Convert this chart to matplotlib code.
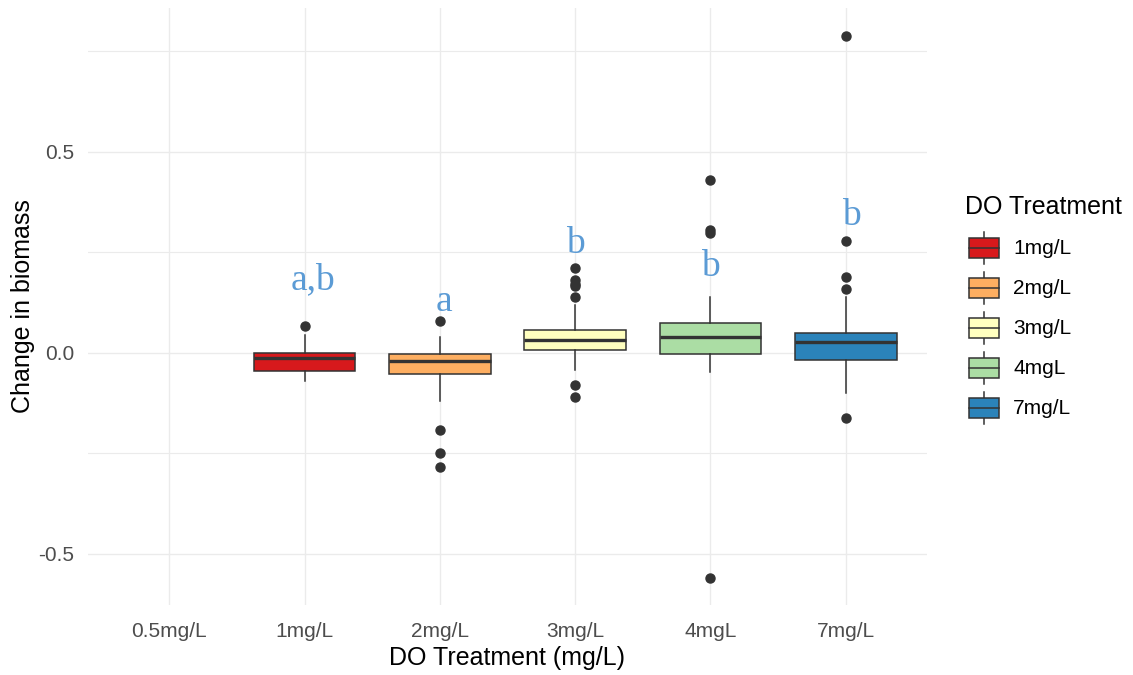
import matplotlib
matplotlib.use("Agg")
import matplotlib.pyplot as plt
from matplotlib.patches import Patch, Rectangle
from matplotlib.lines import Line2D
from matplotlib.legend_handler import HandlerBase

plt.rcParams['font.family'] = ['Liberation Sans', 'DejaVu Sans']

# categories on the x axis (0.5mg/L has no data)
categories = ['0.5mg/L', '1mg/L', '2mg/L', '3mg/L', '4mgL', '7mg/L']
groups = ['1mg/L', '2mg/L', '3mg/L', '4mgL', '7mg/L']
group_pos = [1, 2, 3, 4, 5]

# box statistics
q1 = [-0.045, -0.053, 0.006, -0.002, -0.019]
med = [-0.012, -0.020, 0.031, 0.039, 0.027]
q3 = [-0.001, -0.002, 0.057, 0.075, 0.049]
whis_lo = [-0.070, -0.121, -0.042, -0.049, -0.100]
whis_hi = [0.045, 0.038, 0.118, 0.139, 0.139]
fliers = [[0.066],
          [0.079, -0.192, -0.250, -0.285],
          [0.211, 0.180, 0.172, 0.165, 0.139, -0.081, -0.111],
          [0.430, 0.305, 0.298, -0.560],
          [0.789, 0.278, 0.189, 0.158, -0.162]]

colors = ['#D7191C', '#FDAE61', '#FFFFBF', '#ABDDA4', '#2B83BA']

# significance letters
letters = ['a,b', 'a', 'b', 'b', 'b']
letter_x = [1.06, 2.03, 3.0, 4.0, 5.04]
letter_y = [0.180, 0.128, 0.270, 0.213, 0.340]

edge = '#333333'

stats = []
for i in range(len(groups)):
    stats.append({'q1': q1[i], 'med': med[i], 'q3': q3[i],
                  'whislo': whis_lo[i], 'whishi': whis_hi[i],
                  'fliers': fliers[i], 'label': groups[i]})

fig = plt.figure(figsize=(11.33, 6.75), dpi=100)
ax = fig.add_axes([88/1133, 70/675, 839/1133, 597/675])

bp = ax.bxp(stats, positions=group_pos, widths=0.75, patch_artist=True,
            showcaps=False, zorder=3,
            boxprops=dict(edgecolor=edge, linewidth=1.1),
            medianprops=dict(color=edge, linewidth=2.4, solid_capstyle='butt'),
            whiskerprops=dict(color=edge, linewidth=1.1),
            flierprops=dict(marker='o', markerfacecolor=edge, markeredgecolor=edge,
                            markersize=6.5, linestyle='none'))
for patch, c in zip(bp['boxes'], colors):
    patch.set_facecolor(c)

for t, x, y in zip(letters, letter_x, letter_y):
    ax.text(x, y, t, ha='center', va='center', fontsize=27, color='#5B9BD5',
            family=['Liberation Serif', 'DejaVu Serif'], zorder=4)

ax.set_xlim(-0.6, 5.6)
ax.set_ylim(-0.628, 0.858)
ax.set_xticks(range(len(categories)))
ax.set_xticklabels(categories)
ax.set_yticks([-0.5, 0.0, 0.5])
ax.set_yticklabels(['-0.5', '0.0', '0.5'])
ax.set_yticks([-0.25, 0.25, 0.75], minor=True)

ax.grid(True, which='major', color='#EBEBEB', linewidth=1.0, zorder=0)
ax.grid(True, which='minor', axis='y', color='#EBEBEB', linewidth=0.8, zorder=0)
ax.set_axisbelow(True)
for s in ax.spines.values():
    s.set_visible(False)
ax.tick_params(which='both', length=0, labelsize=15, labelcolor='#4D4D4D')
ax.tick_params(axis='y', pad=10)
ax.tick_params(axis='x', pad=12)

ax.set_xlabel('DO Treatment (mg/L)', fontsize=18)
ax.set_ylabel('Change in biomass', fontsize=18)
ax.xaxis.set_label_coords(0.5, -0.088)
ax.xaxis.label.set_va('center')
ax.yaxis.set_label_coords(-0.077, 0.5)
ax.yaxis.label.set_va('center')


class BoxKey(HandlerBase):
    # ggplot-style boxplot key
    def create_artists(self, legend, orig_handle, xdescent, ydescent,
                       width, height, fontsize, trans):
        x0, y0 = -xdescent, -ydescent
        cx, cy = x0 + width / 2, y0 + height / 2
        fc = orig_handle.get_facecolor()
        w1 = Line2D([cx, cx], [y0 + 0.1 * height, y0 + 0.25 * height], color=edge, lw=1.1)
        w2 = Line2D([cx, cx], [y0 + 0.75 * height, y0 + 0.9 * height], color=edge, lw=1.1)
        box = Rectangle((x0 + 0.125 * width, y0 + 0.25 * height), 0.75 * width, 0.5 * height,
                        facecolor=fc, edgecolor=edge, lw=1.1)
        m = Line2D([x0 + 0.125 * width, x0 + 0.875 * width], [cy, cy], color=edge, lw=1.1)
        arts = [w1, w2, box, m]
        for a in arts:
            a.set_transform(trans)
        return arts


# legend title drawn on its own so the gap above the keys matches
fig.text(965/1133, 1 - 207/675, 'DO Treatment', fontsize=18, ha='left', va='center')

handles = [Patch(facecolor=c, label=g) for c, g in zip(colors, groups)]
leg = fig.legend(handles=handles, labels=groups,
                 handler_map={Patch: BoxKey()},
                 loc='upper left', bbox_to_anchor=(964/1133, 1 - 228/675),
                 frameon=False, fontsize=15,
                 handlelength=1.92, handleheight=2.577, labelspacing=0.0,
                 handletextpad=0.45, borderpad=0, borderaxespad=0)

fig.savefig('out.png', dpi=100)
